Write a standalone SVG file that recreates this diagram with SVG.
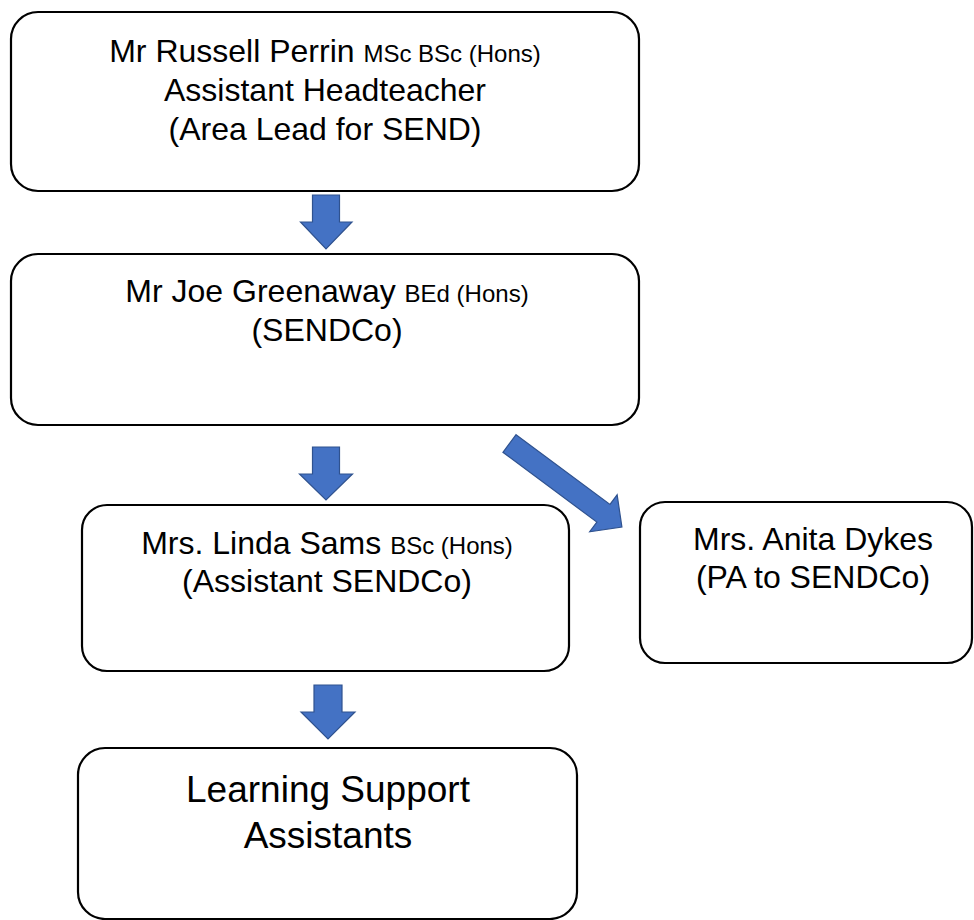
<svg xmlns="http://www.w3.org/2000/svg" width="974" height="920" viewBox="0 0 974 920">
<style>
.box{fill:#fff;stroke:#000;stroke-width:2.2}
.t{font-family:"Liberation Sans",Arial,sans-serif;font-size:32px;fill:#000;text-anchor:middle}
.s{font-size:24px}
.big{font-size:37px}
.arr{fill:#4472C4;stroke:#2F528F;stroke-width:1.2;stroke-linejoin:miter}
</style>
<rect width="974" height="920" fill="#fff"/>
<g id="connectors">
<polygon class="arr" points="312.5,195 339.5,195 339.5,222 352,222 326,249 300.5,222 312.5,222"/>
<polygon class="arr" points="312.5,447 339.5,447 339.5,474 352.5,474 326,500 299.5,474 312.5,474"/>
<polygon class="arr" points="314,685 342,685 342,712 355,712 328,739 301,712 314,712"/>
<polygon class="arr" transform="translate(509.5,443.5) rotate(36.6)" points="0,-11 117,-11 117,-23 140,0 117,23 117,11 0,11"/>
</g>
<g id="node-perrin">
<rect class="box" x="11" y="12" width="628" height="179" rx="27"/>
<text class="t" x="325" y="62">Mr Russell Perrin <tspan class="s">MSc BSc (Hons)</tspan></text>
<text class="t" x="325" y="101">Assistant Headteacher</text>
<text class="t" x="325" y="140">(Area Lead for SEND)</text>
</g>
<g id="node-greenaway">
<rect class="box" x="11" y="254" width="628" height="171" rx="27"/>
<text class="t" x="327" y="302">Mr Joe Greenaway <tspan class="s">BEd (Hons)</tspan></text>
<text class="t" x="327" y="341">(SENDCo)</text>
</g>
<g id="node-sams">
<rect class="box" x="82" y="505" width="487" height="166" rx="25"/>
<text class="t" x="327" y="554">Mrs. Linda Sams <tspan class="s">BSc (Hons)</tspan></text>
<text class="t" x="327" y="592">(Assistant SENDCo)</text>
</g>
<g id="node-dykes">
<rect class="box" x="640" y="502" width="332" height="161" rx="25"/>
<text class="t" x="813" y="550">Mrs. Anita Dykes</text>
<text class="t" x="813" y="588">(PA to SENDCo)</text>
</g>
<g id="node-lsa">
<rect class="box" x="78" y="748" width="499" height="171" rx="27"/>
<text class="t big" x="328" y="802">Learning Support</text>
<text class="t big" x="328" y="848">Assistants</text>
</g>
</svg>
